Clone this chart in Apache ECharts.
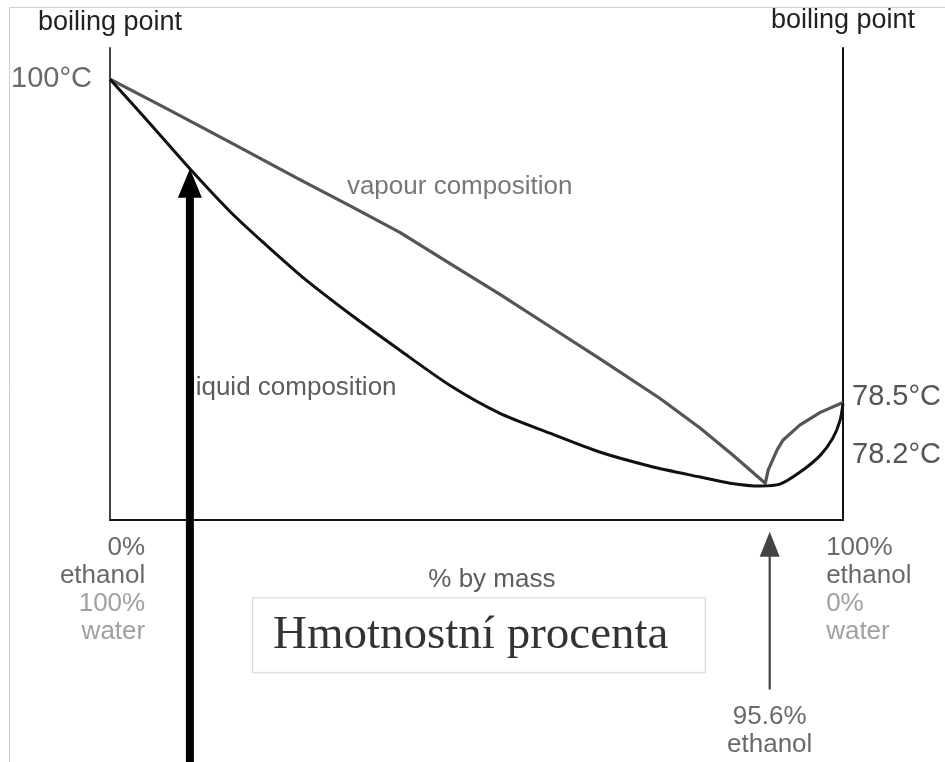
<!DOCTYPE html>
<html>
<head>
<meta charset="utf-8">
<title>Ethanol–water boiling point diagram</title>
<script src="https://cdn.jsdelivr.net/npm/echarts@6/dist/echarts.min.js"></script>
<style>
  html, body { margin: 0; padding: 0; background: #fff; }
  #chart { width: 945px; height: 762px; }
</style>
</head>
<body>
<div id="chart"></div>
<script>
// Schematic diagram units: x runs 0 (pure water) to 100 (pure ethanol),
// y runs 0 (bottom of frame) to 100 (top of frame). The temperature scale is not linear.
const liquidCurve = [
  [0, 93.4], [5.5, 83.9], [10.9, 74.4], [16.4, 65.3], [20.9, 58.8], [26.3, 51.4],
  [33.2, 43.1], [39.6, 35.9], [46.4, 28.5], [53.2, 22.6], [60.0, 18.4], [66.8, 14.4],
  [73.7, 11.4], [80.5, 9.1], [84.6, 7.8], [88.7, 7.2], [91.4, 7.6], [94.1, 10.1],
  [96.9, 13.7], [98.6, 17.3], [99.6, 21.1], [100, 24.7]
];
const vapourCurve = [
  [0, 93.4], [7.8, 87.1], [16.8, 79.7], [25.9, 72.1], [32.7, 66.6], [39.6, 60.9],
  [46.4, 54.3], [53.2, 47.8], [60.0, 41.0], [66.8, 34.2], [75.0, 25.8], [80.5, 19.5],
  [85.0, 13.7], [89.4, 7.8], [89.8, 10.6], [91.0, 14.8], [91.8, 16.9], [94.1, 20.1],
  [96.9, 22.8], [100, 24.9]
];

// Temperature tick labels and where they sit on the schematic y scale
const leftTempPositions = [93.4];
const leftTempLabels = ['100°C'];
const rightTempPositions = [26.0, 13.7];
const rightTempLabels = ['78.5°C', '78.2°C'];

// Arrows: [x, tail y, tip y]
const pointerArrow = [[10.9, -52, 74.4]];      // points at the liquid curve
const azeotropeArrow = [[90.0, -35.9, -2.5]];  // marks the azeotrope
const azeotropeText = '95.6%\nethanol';

const chart = echarts.init(document.getElementById('chart'), null, { renderer: 'canvas' });

const sans = 'Liberation Sans, Arial, Helvetica, sans-serif';

function arrowRenderer(shaftW, headW, headL, color) {
  return function (params, api) {
    const x = api.value(0);
    const tail = api.coord([x, api.value(1)]);
    const tip = api.coord([x, api.value(2)]);
    return {
      type: 'group',
      children: [
        {
          type: 'rect',
          shape: { x: tip[0] - shaftW / 2, y: tip[1] + headL - 1, width: shaftW, height: tail[1] - tip[1] - headL + 1 },
          style: { fill: color }
        },
        {
          type: 'polygon',
          shape: { points: [[tip[0], tip[1]], [tip[0] - headW / 2, tip[1] + headL], [tip[0] + headW / 2, tip[1] + headL]] },
          style: { fill: color }
        }
      ]
    };
  };
}

function note(pos, text, label) {
  return { value: pos, label: Object.assign({ show: true, formatter: text }, label) };
}

const option = {
  animation: false,
  backgroundColor: '#fff',
  textStyle: { fontFamily: sans },
  grid: { left: 110, right: 102, top: 48, bottom: 242, containLabel: false },
  xAxis: {
    type: 'value', min: 0, max: 100,
    axisLine: { show: true, onZero: false, lineStyle: { color: '#111', width: 2 } },
    axisTick: { show: false },
    axisLabel: { show: false },
    splitLine: { show: false }
  },
  yAxis: [
    {
      type: 'value', min: 0, max: 100, position: 'left',
      name: 'boiling point', nameLocation: 'end', nameGap: 12,
      nameTextStyle: { fontSize: 27, color: '#222', fontFamily: sans },
      axisLine: { show: true, onZero: false, lineStyle: { color: '#444', width: 2 } },
      axisTick: { show: false },
      splitLine: { show: false },
      axisLabel: {
        customValues: leftTempPositions,
        formatter: (v) => leftTempLabels[leftTempPositions.indexOf(v)] || '',
        fontSize: 29, color: '#6a6a6a', margin: 18, fontFamily: sans
      }
    },
    {
      type: 'value', min: 0, max: 100, position: 'right',
      name: 'boiling point', nameLocation: 'end', nameGap: 14,
      nameTextStyle: { fontSize: 27, color: '#222', fontFamily: sans },
      axisLine: { show: true, onZero: false, lineStyle: { color: '#111', width: 2 } },
      axisTick: { show: false },
      splitLine: { show: false },
      axisLabel: {
        customValues: rightTempPositions,
        formatter: (v) => rightTempLabels[rightTempPositions.indexOf(v)] || '',
        fontSize: 29, color: '#555', margin: 9, fontFamily: sans
      }
    }
  ],
  graphic: [
    { type: 'line', shape: { x1: 9, y1: 7.5, x2: 945, y2: 7.5 }, style: { stroke: '#cfcfcf', lineWidth: 1 }, silent: true },
    { type: 'line', shape: { x1: 9.5, y1: 7, x2: 9.5, y2: 762 }, style: { stroke: '#cfcfcf', lineWidth: 1 }, silent: true }
  ],
  series: [
    {
      name: 'vapour composition', type: 'line', data: vapourCurve,
      symbol: 'none', smooth: false, z: 3,
      lineStyle: { color: '#555', width: 3.2, join: 'round' }
    },
    {
      name: 'liquid composition', type: 'line', data: liquidCurve,
      symbol: 'none', smooth: 0.25, z: 4,
      lineStyle: { color: '#111', width: 3, join: 'round' }
    },
    {
      name: 'notes', type: 'scatter', symbolSize: 0, clip: false, silent: true, z: 5,
      data: [
        note([47.7, 70.6], 'vapour composition', { position: 'inside', align: 'center', verticalAlign: 'middle', fontSize: 26, color: '#555' }),
        note([10.9, 27.9], 'liquid composition', { position: 'inside', align: 'left', verticalAlign: 'middle', fontSize: 26, color: '#333' }),
        note([52.1, -12.7], '% by mass', { position: 'inside', align: 'center', verticalAlign: 'middle', fontSize: 26, color: '#333' }),
        note([4.8, -14.8], '{a|0%}\n{a|ethanol}\n{b|100%}\n{b|water}', {
          position: 'inside', align: 'right', verticalAlign: 'middle',
          rich: { a: { fontSize: 26, lineHeight: 28, color: '#444', fontFamily: sans }, b: { fontSize: 26, lineHeight: 28, color: '#888', fontFamily: sans } }
        }),
        note([97.7, -14.8], '{a|100%}\n{a|ethanol}\n{b|0%}\n{b|water}', {
          position: 'inside', align: 'left', verticalAlign: 'middle',
          rich: { a: { fontSize: 26, lineHeight: 28, color: '#444', fontFamily: sans }, b: { fontSize: 26, lineHeight: 28, color: '#888', fontFamily: sans } }
        }),
        note([90.0, -44.6], azeotropeText, { position: 'inside', align: 'center', verticalAlign: 'middle', fontSize: 26, lineHeight: 28, color: '#444' }),
        note([19.5, -24.4], 'Hmotnostní procenta', {
          position: 'inside', align: 'left', verticalAlign: 'middle',
          fontFamily: 'Liberation Serif, Times New Roman, serif', fontSize: 47, color: '#000',
          width: 432, height: 74, lineHeight: 74, padding: [0, 0, 0, 20],
          backgroundColor: '#fff', borderColor: '#cfcfcf', borderWidth: 1
        })
      ]
    },
    {
      name: 'pointer', type: 'custom', data: pointerArrow, z: 10, silent: true,
      renderItem: arrowRenderer(8, 24, 29, '#000')
    },
    {
      name: 'azeotrope', type: 'custom', data: azeotropeArrow, z: 10, silent: true,
      renderItem: arrowRenderer(2.2, 20, 25, '#444')
    }
  ]
};

chart.setOption(option);
</script>
</body>
</html>
